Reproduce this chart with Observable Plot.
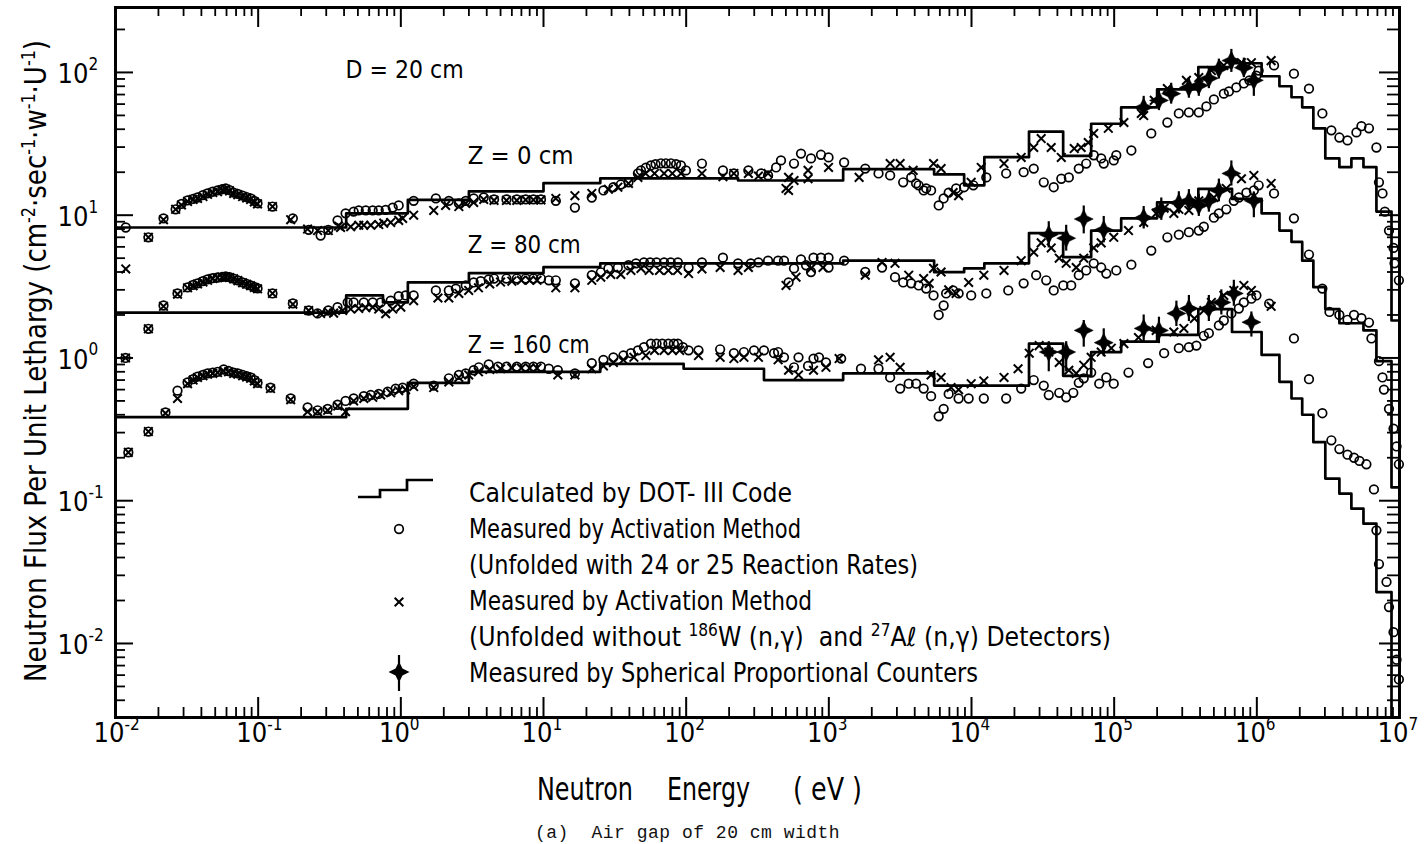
<!DOCTYPE html>
<html><head><meta charset="utf-8">
<script src="https://cdn.jsdelivr.net/npm/d3@7"></script>
<script src="https://cdn.jsdelivr.net/npm/@observablehq/plot@0.6"></script>
<style>
html,body{margin:0;padding:0;background:#fff;}
#chart{width:1424px;height:812px;}
#caption{width:1424px;height:32px;margin:0;padding:0;}
#caption span{display:inline-block;margin-left:535px;margin-top:11px;font-family:"Liberation Mono","DejaVu Sans Mono",monospace;font-size:18px;letter-spacing:0.5px;white-space:pre;color:#111;line-height:20px;}
</style></head>
<body>
<div id="chart"></div>
<div id="caption"><span>(a)  Air gap of 20 cm width</span></div>
<script>
// ---------------- DATA ----------------
// Group boundaries (eV) of the DOT-III calculation
const groupEdges = [0.01, 0.414, 0.75, 1.12, 3.0, 10, 25, 96, 231, 351, 1260, 5470, 8880, 1.23e4, 2.53e4, 4.39e4, 6.9e4, 1.12e5, 2.0e5, 3.89e5, 6.7e5, 1.08e6, 1.44e6, 1.75e6, 2.08e6, 2.49e6, 3.02e6, 3.79e6, 4.6e6, 5.59e6, 6.89e6, 8.79e6, 1e7];
const calc0 = [8.2, 10.3, 10.3, 12.8, 14.7, 16.8, 18.1, 18.1, 17.5, 17.5, 21, 19.3, 16.2, 25.5, 38.5, 26, 43.7, 57, 76, 109, 116, 94, 80, 67, 57, 40.5, 25, 21.7, 25, 21.7, 10.6, 1.83];
const calc80 = [2.08, 2.74, 2.45, 3.38, 3.93, 4.33, 4.6, 4.6, 4.6, 4.6, 4.8, 3.99, 4.24, 4.6, 7.5, 5.08, 7.8, 9.5, 12.3, 15.3, 13, 10.3, 7.8, 6.5, 4.8, 3.13, 2.2, 1.75, 1.75, 1.56, 0.95, 0.124];
const calc160 = [0.385, 0.44, 0.44, 0.67, 0.80, 0.80, 0.91, 0.84, 0.84, 0.70, 0.78, 0.64, 0.64, 0.64, 1.26, 0.75, 1.1, 1.3, 1.45, 2.2, 1.52, 1.05, 0.68, 0.52, 0.40, 0.257, 0.143, 0.112, 0.088, 0.069, 0.0229, 0.0025];

// Measured by activation method (unfolded with 24 or 25 reaction rates): [E (eV), flux]
const circles0 = [[0.0118,8.2],[0.017,7.0],[0.0217,9.5],[0.0264,11.0],[0.029,12.0],[0.032,12.7],[0.035,13.0],[0.0376,13.3],[0.041,13.8],[0.0442,14.2],[0.048,14.6],[0.0519,14.9],[0.056,15.2],[0.0592,15.4],[0.063,15.0],[0.0673,14.4],[0.072,14.1],[0.0778,13.7],[0.083,13.4],[0.0885,13.1],[0.094,12.6],[0.099,12.1],[0.126,11.5],[0.175,9.5],[0.226,7.9],[0.274,7.2],[0.31,7.9],[0.36,9.2],[0.41,10.3],[0.467,10.6],[0.507,10.8],[0.568,10.8],[0.635,10.8],[0.70,10.8],[0.783,10.9],[0.877,11.3],[0.966,11.7],[1.23,12.6],[1.76,13.1],[2.17,12.6],[2.55,12.1],[2.85,12.6],[3.24,13.1],[3.81,13.3],[4.5,12.9],[5.5,12.9],[6.5,12.9],[7.5,12.9],[8.5,12.9],[9.6,12.9],[12.2,12.6],[16.6,11.3],[21.8,13.3],[26.3,14.9],[30.9,15.7],[34.8,16.4],[39.4,17.0],[45.9,19.6],[48.2,20.6],[52.2,21.5],[56.6,22.3],[61,22.8],[66.5,23.1],[72,23.1],[78.2,23.1],[85,22.8],[91.9,22.3],[99.6,20.6],[129,23.0],[181,20.6],[216,19.6],[273,20.6],[335,19.6],[375,19.0],[427,21.6],[462,24.2],[570,23.0],[638,27.0],[750,25.0],[881,26.5],[995,25.4],[1280,23.4],[1800,21.2],[2230,19.6],[2690,19.0],[3320,17.0],[3780,18.4],[4090,16.7],[4260,16.2],[4620,14.9],[4810,15.4],[5210,14.9],[5890,11.7],[6380,13.1],[6920,14.4],[7800,15.4],[8870,15.7],[10300,16.2],[12700,18.4],[17500,19.6],[23200,20.0],[27300,21.2],[32100,17.0],[37700,15.7],[42600,18.0],[48100,18.4],[56500,21.2],[63700,23.0],[71900,26.3],[81100,25.0],[84500,23.0],[99300,24.2],[103500,26.3],[132000,28.4],[182000,37.4],[236000,44.6],[284000,51.6],[334000,52.5],[392000,52.5],[443000,57.8],[500000,64.7],[587000,71],[637000,73.6],[718000,78.5],[811000,83.7],[887000,88],[993000,95],[1.03e6,103],[1.32e6,112],[1.82e6,98],[2.32e6,77],[2.88e6,51.6],[3.33e6,39.3],[3.79e6,35],[4.32e6,33.4],[4.99e6,38],[5.41e6,42],[6.11e6,40.6],[6.89e6,29.8],[7.18e6,17],[7.6e6,14.2],[7.9e6,10.6],[8.44e6,7.8],[9.08e6,5.9],[9.23e6,4.6],[9.9e6,3.5]];
const circles80 = [[0.01175,1.0],[0.017,1.6],[0.0217,2.33],[0.0272,2.83],[0.032,3.12],[0.035,3.25],[0.0376,3.33],[0.041,3.45],[0.0442,3.55],[0.048,3.62],[0.0519,3.66],[0.056,3.7],[0.0592,3.72],[0.063,3.68],[0.0673,3.6],[0.072,3.5],[0.0778,3.38],[0.083,3.3],[0.0885,3.22],[0.094,3.14],[0.099,3.07],[0.126,2.83],[0.175,2.41],[0.226,2.15],[0.261,2.05],[0.31,2.15],[0.36,2.27],[0.424,2.45],[0.467,2.45],[0.55,2.45],[0.635,2.45],[0.723,2.45],[0.849,2.52],[0.966,2.71],[1.08,2.74],[1.23,2.74],[1.76,2.97],[2.17,2.97],[2.43,3.06],[2.85,3.22],[3.24,3.38],[3.63,3.45],[4.13,3.55],[4.5,3.6],[5.5,3.6],[6.5,3.6],[7.5,3.6],[8.5,3.6],[9.6,3.6],[10.9,3.5],[12.2,3.5],[16.6,3.33],[21.8,3.8],[25.2,3.98],[28.5,4.24],[33.2,4.3],[39.4,4.46],[44.5,4.6],[50.6,4.67],[56,4.67],[62,4.67],[70,4.67],[78,4.67],[87.5,4.67],[104,4.3],[129,4.67],[181,5.04],[231,4.6],[284,4.6],[321,4.67],[375,4.8],[441,4.8],[485,4.8],[522,3.38],[570,4.24],[638,4.9],[692,4.46],[750,4.0],[781,5.04],[881,5.04],[995,5.04],[995,4.3],[1280,4.8],[1800,4.0],[2360,4.3],[2910,3.68],[3320,3.38],[3780,3.33],[4260,3.22],[4810,3.06],[5420,2.74],[5890,2.0],[6380,2.33],[6640,2.83],[7430,2.97],[8120,2.83],[9950,2.74],[12700,2.83],[18100,2.97],[23200,3.33],[28400,3.8],[33400,3.5],[37700,2.97],[44000,3.22],[50000,3.22],[56500,3.8],[63700,4.1],[71900,4.6],[81100,4.3],[88100,3.9],[103500,4.1],[132000,4.5],[182000,5.65],[236000,7.0],[284000,7.3],[334000,7.6],[392000,7.8],[425000,8.3],[500000,9.6],[542000,10.3],[611000,11.0],[690000,12.6],[748000,13.3],[845000,14.4],[953000,14.9],[1.03e6,16.2],[1.32e6,14.2],[1.82e6,9.5],[2.32e6,5.3],[2.88e6,3.06],[3.23e6,2.1],[3.79e6,2.0],[4.32e6,1.85],[4.8e6,2.0],[5.41e6,1.9],[6.11e6,1.77],[6.36e6,1.37],[7.18e6,0.95],[7.6e6,0.73],[7.78e6,0.6],[8.44e6,0.44],[9.08e6,0.32],[9.53e6,0.24],[9.9e6,0.18]];
const circles160 = [[0.0123,0.218],[0.017,0.305],[0.0224,0.415],[0.0272,0.59],[0.032,0.673],[0.035,0.71],[0.0376,0.74],[0.041,0.76],[0.0442,0.78],[0.048,0.79],[0.0519,0.80],[0.0573,0.83],[0.062,0.81],[0.0673,0.79],[0.072,0.78],[0.0778,0.76],[0.083,0.745],[0.0885,0.73],[0.094,0.70],[0.099,0.67],[0.122,0.62],[0.169,0.52],[0.222,0.45],[0.261,0.43],[0.307,0.44],[0.36,0.47],[0.41,0.50],[0.467,0.52],[0.55,0.54],[0.615,0.55],[0.70,0.56],[0.809,0.58],[0.92,0.61],[1.03,0.62],[1.23,0.66],[1.70,0.64],[2.17,0.72],[2.55,0.76],[2.85,0.78],[3.24,0.82],[3.52,0.86],[4.13,0.9],[4.8,0.87],[5.5,0.87],[6.5,0.87],[7.5,0.87],[8.5,0.87],[9.6,0.87],[10.9,0.84],[12.6,0.82],[16.6,0.78],[21.8,0.92],[26.3,0.97],[30.9,1.01],[36.3,1.04],[41.0,1.08],[45.9,1.13],[50.6,1.19],[56.6,1.26],[62,1.26],[68,1.26],[75,1.26],[82,1.26],[87.5,1.26],[94.9,1.19],[104,1.13],[122,1.13],[173,1.15],[216,1.08],[254,1.1],[299,1.13],[351,1.13],[413,1.08],[441,1.1],[485,1.01],[570,0.86],[613,1.01],[715,0.88],[781,0.99],[853,1.01],[955,0.93],[1220,0.99],[1680,0.84],[2230,0.84],[2690,0.73],[3160,0.61],[3630,0.66],[4090,0.66],[4620,0.61],[5210,0.54],[5890,0.39],[6380,0.44],[6920,0.56],[8120,0.52],[9550,0.52],[12200,0.52],[17500,0.52],[22300,0.61],[27300,0.70],[32100,0.64],[34800,0.55],[41200,0.57],[46100,0.53],[51700,0.57],[56500,0.67],[61200,0.72],[69000,0.79],[78600,0.66],[88100,0.73],[99300,0.66],[126000,0.79],[173000,0.92],[224000,1.08],[284000,1.17],[334000,1.19],[377000,1.22],[425000,1.43],[461000,1.49],[542000,1.69],[587000,1.83],[663000,2.05],[748000,2.22],[811000,2.45],[916000,2.6],[993000,2.74],[1.22e6,2.4],[1.82e6,1.37],[2.32e6,0.71],[2.88e6,0.41],[3.33e6,0.265],[3.79e6,0.23],[4.32e6,0.21],[4.8e6,0.2],[5.24e6,0.19],[5.86e6,0.18],[6.62e6,0.12],[6.89e6,0.062],[7.18e6,0.036],[8.11e6,0.027],[8.44e6,0.018],[9.08e6,0.012],[9.53e6,0.0077],[9.9e6,0.0056]];

// Measured by activation method (unfolded without 186W(n,g) and 27Al(n,g)): [E, flux]
const crosses0 = [[0.0118,4.2],[0.017,7.0],[0.0217,9.3],[0.0264,11.0],[0.029,11.8],[0.032,12.5],[0.035,12.9],[0.0376,13.1],[0.041,13.5],[0.0442,14.0],[0.048,14.4],[0.0519,14.6],[0.056,15.0],[0.0592,15.2],[0.063,14.8],[0.0673,14.2],[0.072,13.9],[0.0778,13.5],[0.083,13.2],[0.0885,12.9],[0.094,12.4],[0.099,12.0],[0.126,11.5],[0.169,9.3],[0.222,8.0],[0.261,7.8],[0.31,7.8],[0.366,8.4],[0.378,8.2],[0.445,8.3],[0.507,8.5],[0.55,8.5],[0.615,8.5],[0.70,8.6],[0.759,8.8],[0.849,8.9],[0.966,9.2],[1.03,9.5],[1.23,10.0],[1.70,10.8],[2.06,11.7],[2.55,11.5],[2.85,12.1],[3.24,12.3],[3.81,12.9],[4.5,12.7],[5.5,12.7],[6.5,12.7],[7.5,12.8],[8.5,12.8],[9.6,12.8],[12.2,13.1],[16.6,13.7],[21.8,14.2],[28.5,15.2],[33.2,15.7],[39.4,16.7],[45.9,18.4],[52,19.6],[60,19.6],[70,19.6],[80,19.6],[92,19.6],[129,19.6],[181,18.6],[216,19.6],[273,19.6],[321,18.8],[375,19.6],[501,15.4],[522,14.9],[522,18.4],[570,17.5],[715,18.0],[715,20.6],[995,21.6],[1630,18.4],[2690,23.0],[3160,23.0],[3900,20.6],[5420,23.0],[6120,21.2],[7430,14.4],[8120,13.7],[9950,17.0],[11700,21.6],[16900,23.0],[22300,25.4],[27300,29.8],[30800,34.4],[36200,29.8],[42600,25.4],[52500,29.3],[58700,29.8],[65800,32.3],[71900,37.4],[91000,40.6],[117000,44.6],[155000,51.6],[161000,49.9],[191000,63.7],[236000,77],[321000,88],[392000,92],[480000,103],[587000,112],[780000,117],[916000,117],[1.26e6,121]];
const crosses80 = [[0.01175,1.0],[0.017,1.6],[0.0217,2.3],[0.0272,2.8],[0.032,3.1],[0.035,3.2],[0.0376,3.3],[0.041,3.4],[0.0442,3.5],[0.048,3.6],[0.0519,3.64],[0.056,3.68],[0.0592,3.7],[0.063,3.66],[0.0673,3.58],[0.072,3.48],[0.0778,3.36],[0.083,3.28],[0.0885,3.2],[0.094,3.12],[0.099,3.05],[0.126,2.83],[0.175,2.38],[0.226,2.15],[0.274,2.05],[0.31,2.1],[0.338,2.06],[0.391,2.15],[0.445,2.2],[0.507,2.22],[0.568,2.25],[0.635,2.27],[0.70,2.2],[0.783,2.04],[0.877,2.2],[1.0,2.27],[1.23,2.52],[1.82,2.63],[2.17,2.63],[2.55,2.83],[2.99,2.97],[3.5,3.1],[4.2,3.3],[5.0,3.4],[6.0,3.45],[7.0,3.5],[8.0,3.5],[9.0,3.5],[12.2,3.1],[16.6,3.1],[21.8,3.5],[25.2,3.68],[29.6,3.85],[34.8,3.85],[41.0,4.1],[48.2,4.24],[55,4.1],[65,4.1],[75,4.1],[87,4.1],[104,3.9],[129,4.2],[173,4.3],[231,4.1],[273,4.3],[501,3.22],[589,3.68],[750,4.24],[910,4.3],[1800,3.8],[2360,4.67],[2910,4.6],[3630,3.8],[4620,3.6],[5050,3.33],[5420,4.24],[6120,4.0],[6920,3.0],[7800,2.83],[9550,3.38],[12200,3.8],[16900,4.1],[22300,4.8],[27300,5.5],[30800,6.4],[36200,5.9],[41200,5.0],[46100,4.6],[54200,4.3],[61200,5.0],[71900,5.9],[81100,6.4],[99300,7.0],[126000,7.8],[161000,8.9],[197000,10.3],[224000,11.2],[262000,10.3],[284000,11.0],[334000,10.8],[392000,12.6],[500000,13.3],[611000,15.4],[780000,18.0],[953000,19.0],[1.26e6,16.7]];
const crosses160 = [[0.0123,0.218],[0.017,0.305],[0.0224,0.41],[0.0272,0.52],[0.032,0.66],[0.035,0.70],[0.0376,0.73],[0.041,0.75],[0.0442,0.77],[0.048,0.78],[0.0519,0.79],[0.0573,0.81],[0.062,0.80],[0.0673,0.78],[0.072,0.77],[0.0778,0.75],[0.083,0.735],[0.0885,0.72],[0.094,0.69],[0.099,0.66],[0.122,0.61],[0.169,0.51],[0.222,0.42],[0.261,0.42],[0.307,0.43],[0.361,0.46],[0.41,0.42],[0.467,0.5],[0.55,0.52],[0.635,0.53],[0.723,0.55],[0.849,0.57],[0.966,0.59],[1.08,0.6],[1.23,0.63],[1.70,0.62],[2.17,0.68],[2.55,0.73],[2.99,0.76],[3.5,0.8],[4.2,0.83],[5.0,0.84],[6.0,0.85],[7.0,0.85],[8.0,0.85],[9.0,0.85],[12.6,0.76],[16.6,0.76],[21.8,0.84],[26.3,0.88],[30.9,0.93],[36.3,0.97],[43,1.01],[52.2,1.04],[60,1.13],[70,1.13],[80,1.13],[90,1.13],[122,1.04],[173,1.01],[216,0.99],[254,1.01],[321,1.01],[441,0.97],[522,0.82],[613,0.76],[781,0.82],[955,0.86],[1180,0.99],[2230,0.97],[2690,1.01],[3160,0.86],[5210,0.76],[6120,0.73],[7190,0.62],[8120,0.6],[9950,0.66],[12200,0.69],[16900,0.73],[21200,0.84],[25400,1.08],[29800,1.22],[34800,1.1],[41200,0.93],[48100,0.82],[54200,0.78],[61200,0.89],[69000,1.01],[81100,1.1],[95500,1.17],[117000,1.26],[148000,1.39],[197000,1.56],[262000,1.52],[308000,1.61],[365000,1.89],[425000,2.15],[480000,2.45],[587000,2.74],[690000,2.97],[811000,3.22],[916000,2.97],[1.26e6,2.3]];

// Measured by spherical proportional counters: [E, flux, low, high]
const stars0 = [[161000,57,48,68],[206000,63.7,54,75],[251000,71,60,84],[334000,78.5,66,92],[392000,81,68,95],[461000,91,77,107],[542000,106,90,124],[663000,121,100,145],[811000,108,92,126],[953000,88,68,100]];
const stars80 = [[34800,7.3,5.9,9.0],[46100,6.9,5.6,8.5],[61200,9.4,7.4,11.6],[84500,7.9,6.4,9.8],[161000,9.6,8.0,11.5],[214000,11.0,9.2,13.2],[284000,12.2,10.2,14.6],[334000,12.6,10.5,15.1],[392000,11.7,9.8,14.0],[461000,12.6,10.5,15.1],[542000,14.9,12.4,17.9],[663000,19.6,16.0,24.0],[953000,12.6,9.6,14.5]];
const stars160 = [[34800,1.1,0.8,1.3],[46100,1.1,0.8,1.3],[61200,1.56,1.19,1.83],[84500,1.28,1.02,1.6],[161000,1.61,1.3,2.0],[206000,1.56,1.26,1.93],[273000,2.05,1.66,2.5],[334000,2.22,1.8,2.74],[461000,2.22,1.8,2.74],[564000,2.45,2.0,3.0],[690000,2.83,2.3,3.5],[916000,1.78,1.4,2.1]];

// Ticks
const xMajor = [1e-2, 1e-1, 1e0, 1e1, 1e2, 1e3, 1e4, 1e5, 1e6, 1e7];
const xExp = ["-2","-1","0","1","2","3","4","5","6","7"];
const xMinor = [0.02,0.03,0.04,0.05,0.06,0.07,0.08,0.09, 0.2,0.3,0.4,0.5,0.6,0.7,0.8,0.9, 2,3,4,5,6,7,8,9, 20,30,40,50,60,70,80,90, 200,300,400,500,600,700,800,900, 2e3,3e3,4e3,5e3,6e3,7e3,8e3,9e3, 2e4,3e4,4e4,5e4,6e4,7e4,8e4,9e4, 2e5,3e5,4e5,5e5,6e5,7e5,8e5,9e5, 2e6,3e6,4e6,5e6,6e6,7e6,8e6,9e6];
const yMajor = [1e-2, 1e-1, 1, 10, 100];
const yExp = ["-2","-1","0","1","2"];
const yMinor = [4e-3,5e-3,6e-3,7e-3,8e-3,9e-3, 0.02,0.03,0.04,0.05,0.06,0.07,0.08,0.09, 0.2,0.3,0.4,0.5,0.6,0.7,0.8,0.9, 2,3,4,5,6,7,8,9, 20,30,40,50,60,70,80,90, 200];

// Annotations (label, energy, flux at text baseline)
const annotLabels = ["D = 20 cm", "Z = 0 cm", "Z = 80 cm", "Z = 160 cm"];
const annotE = [0.41, 2.94, 2.94, 2.94];
const annotF = [92, 23.0, 5.4, 1.09];

// Legend labels
const legendLabels = [
  [["Calculated by DOT- III Code"]],
  [["Measured by Activation Method"]],
  [["(Unfolded with 24 or 25 Reaction Rates)"]],
  [["Measured by Activation Method"]],
  [["(Unfolded without "],["186","sup"],["W (n,γ)  and "],["27","sup"],["Aℓ (n,γ) Detectors)"]],
  [["Measured by Spherical Proportional Counters"]]
];

// ---------------- CHART ----------------
const FONT = '"Liberation Sans Narrow","DejaVu Sans Condensed","Liberation Sans",Arial,sans-serif';
const W = 1424, H = 812, mL = 115, mR = 25, mT = 7, mB = 95;
const fw = W - mL - mR, fh = H - mT - mB;

const star4 = {draw(ctx, size) {
  const R = Math.sqrt(size / Math.PI), w = R * 0.33;
  ctx.moveTo(0, -R); ctx.lineTo(w, -w); ctx.lineTo(R, 0); ctx.lineTo(w, w);
  ctx.lineTo(0, R); ctx.lineTo(-w, w); ctx.lineTo(-R, 0); ctx.lineTo(-w, -w); ctx.closePath();
}};

function stepRows(vals) {
  const rows = vals.map((v, i) => ({E: groupEdges[i], F: v}));
  rows.push({E: groupEdges[groupEdges.length - 1], F: vals[vals.length - 1]});
  return rows;
}
const annots = annotLabels.map((t, i) => ({t, E: annotE[i], F: annotF[i]}));

const CR = 4.3, XR = 4.0;
const seriesMarks = [];
for (const [calc, circ, cross, stars] of [[calc0, circles0, crosses0, stars0], [calc80, circles80, crosses80, stars80], [calc160, circles160, crosses160, stars160]]) {
  seriesMarks.push(
    Plot.line(stepRows(calc), {x: "E", y: "F", curve: "step-after", stroke: "black", strokeWidth: 2.7, clip: true}),
    Plot.dot(circ, {x: d => d[0], y: d => d[1], r: CR, fill: "none", stroke: "black", strokeWidth: 1.7}),
    Plot.dot(cross, {x: d => d[0], y: d => d[1], symbol: "times", r: XR, stroke: "black", strokeWidth: 2}),
    Plot.ruleX(stars, {x: d => d[0], y1: d => d[2], y2: d => d[3], stroke: "black", strokeWidth: 2.2}),
    Plot.dot(stars, {x: d => d[0], y: d => d[1], symbol: star4, r: 9.5, fill: "black", stroke: "black", strokeWidth: 0.5})
  );
}

const plot = Plot.plot({
  width: W, height: H,
  marginLeft: mL, marginRight: mR, marginTop: mT, marginBottom: mB,
  x: {type: "log", domain: [1e-2, 1e7], axis: null},
  y: {type: "log", domain: [3.03e-3, 285], axis: null},
  style: {background: "white", color: "black"},
  marks: [
    Plot.tickX(xMajor, {x: d => d, insetTop: fh - 20, strokeWidth: 2}),
    Plot.tickX(xMinor, {x: d => d, insetTop: fh - 10, strokeWidth: 1.8}),
    Plot.tickX(xMajor, {x: d => d, insetBottom: fh - 20, strokeWidth: 2}),
    Plot.tickX(xMinor, {x: d => d, insetBottom: fh - 9, strokeWidth: 1.8}),
    Plot.tickY(yMajor, {y: d => d, insetRight: fw - 18, strokeWidth: 2}),
    Plot.tickY(yMinor, {y: d => d, insetRight: fw - 10, strokeWidth: 1.8}),
    Plot.tickY(yMajor, {y: d => d, insetLeft: fw - 20, strokeWidth: 2}),
    Plot.tickY(yMinor, {y: d => d, insetLeft: fw - 12, strokeWidth: 1.8}),
    ...seriesMarks,
    Plot.text(annots, {x: "E", y: "F", text: "t", textAnchor: "start", lineAnchor: "bottom", fontSize: 25, fontFamily: FONT}),
    Plot.frame({stroke: "black", strokeWidth: 3}),
    Plot.text(xMajor, {x: d => d, frameAnchor: "bottom", text: () => "10", textAnchor: "end", dx: 9, dy: 24, fontSize: 27, fontFamily: FONT}),
    Plot.text(xMajor, {x: d => d, frameAnchor: "bottom", text: (d, i) => xExp[i], textAnchor: "start", dx: 9, dy: 12, fontSize: 17, fontFamily: FONT}),
    Plot.text(yMajor, {y: d => d, frameAnchor: "left", text: () => "10", textAnchor: "end", dx: -27, dy: 2, fontSize: 27, fontFamily: FONT}),
    Plot.text(yMajor, {y: d => d, frameAnchor: "left", text: (d, i) => yExp[i], textAnchor: "start", dx: -27, dy: -8, fontSize: 17, fontFamily: FONT})
  ]
});
document.getElementById("chart").appendChild(plot);

// stretch annotation texts to the original widths
const annotWidths = {"D = 20 cm": 118, "Z = 0 cm": 106, "Z = 80 cm": 113, "Z = 160 cm": 122};
d3.select(plot).selectAll("text").each(function() {
  const t = this.textContent;
  if (annotWidths[t]) { this.setAttribute("textLength", annotWidths[t]); this.setAttribute("lengthAdjust", "spacingAndGlyphs"); }
});

const svg = d3.select(plot);
// Axis titles
const yt = svg.append("text")
  .attr("transform", "translate(46,361) rotate(-90)")
  .attr("text-anchor", "middle").attr("font-family", FONT).attr("font-size", 31).attr("fill", "black")
  .attr("textLength", 642).attr("lengthAdjust", "spacingAndGlyphs");
const ySegs = [["Neutron Flux Per Unit Lethargy (cm"],["-2","sup"],["·sec"],["-1","sup"],["·w"],["-1","sup"],["·U"],["-1","sup"],[")"]];
let prevSup = false;
for (const [s, k] of ySegs) {
  const ts = yt.append("tspan").text(s);
  if (k === "sup") { ts.attr("dy", -11).attr("font-size", 19); prevSup = true; }
  else if (prevSup) { ts.attr("dy", 11); prevSup = false; }
}
const xtParts = [["Neutron", 537, 96], ["Energy", 667, 83], ["( eV )", 793, 69]];
for (const [s, x, len] of xtParts) {
  svg.append("text").attr("x", x).attr("y", 800).attr("text-anchor", "start").attr("font-family", FONT).attr("font-size", 32).attr("fill", "black")
    .attr("textLength", len).attr("lengthAdjust", "spacingAndGlyphs").text(s);
}

// Legend
const lg = svg.append("g");
lg.append("path").attr("d", "M358,497H380V490H407V480H433").attr("fill", "none").attr("stroke", "black").attr("stroke-width", 2.7);
lg.append("circle").attr("cx", 399).attr("cy", 529).attr("r", CR).attr("fill", "none").attr("stroke", "black").attr("stroke-width", 1.7);
lg.append("path").attr("transform", "translate(399,602)").attr("d", d3.symbol(d3.symbolTimes, Math.PI * XR * XR)()).attr("fill", "none").attr("stroke", "black").attr("stroke-width", 2);
lg.append("line").attr("x1", 399).attr("x2", 399).attr("y1", 655).attr("y2", 691).attr("stroke", "black").attr("stroke-width", 2.2);
lg.append("path").attr("transform", "translate(399,672)").attr("d", d3.symbol(star4, Math.PI * 110)()).attr("fill", "black");
const legendWidths = [323, 332, 449, 343, 642, 509];
legendLabels.forEach((segs, i) => {
  const t = lg.append("text").attr("x", 469).attr("y", 502 + 36 * i).attr("text-anchor", "start").attr("font-family", FONT).attr("font-size", 26).attr("fill", "black")
    .attr("textLength", legendWidths[i]).attr("lengthAdjust", "spacingAndGlyphs");
  let sup = false;
  for (const [s, k] of segs) {
    const ts = t.append("tspan").text(s);
    if (k === "sup") { ts.attr("dy", -10).attr("font-size", 17); sup = true; }
    else if (sup) { ts.attr("dy", 10); sup = false; }
  }
});
</script>
</body></html>
